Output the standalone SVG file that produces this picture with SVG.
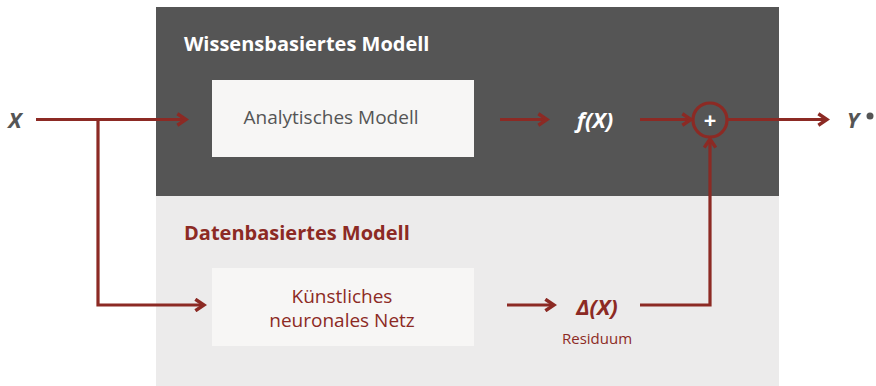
<svg xmlns="http://www.w3.org/2000/svg" width="876" height="386" viewBox="0 0 876 386">
<defs>
<style>
.ln{fill:none;stroke:#8c2a24;stroke-width:3.2}
.t{font-family:"Open Sans","Liberation Sans",sans-serif}
.var{font-family:"Open Sans","Liberation Sans",sans-serif;font-style:italic;font-weight:bold;font-size:22px}
</style>
<marker id="arr" viewBox="0 0 10 10" refX="8" refY="5" markerWidth="4.5" markerHeight="4.5" orient="auto" markerUnits="strokeWidth">
<path d="M2,1 L8,5 L2,9" fill="none" stroke="#8c2a24" stroke-width="2.4"/>
</marker>
</defs>
<rect width="876" height="386" fill="#ffffff"/>
<g id="wissen">
<rect x="156" y="7" width="623" height="189" fill="#555555"/>
<text class="t" x="184" y="51" font-size="20" font-weight="bold" fill="#ffffff">Wissensbasiertes Modell</text>
</g>
<g id="daten">
<rect x="156" y="196" width="623" height="190" fill="#ecebeb"/>
<text class="t" x="184" y="240" font-size="20" font-weight="bold" fill="#8c2a24">Datenbasiertes Modell</text>
</g>
<g id="analytisch">
<rect x="212" y="80" width="262" height="77" fill="#f7f6f5"/>
<text class="t" x="331" y="124" font-size="19" fill="#555555" text-anchor="middle">Analytisches Modell</text>
</g>
<g id="knn">
<rect x="212" y="268" width="262" height="78" fill="#f7f6f5"/>
<text class="t" x="342" y="303" font-size="19" fill="#8c2a24" text-anchor="middle">Künstliches</text>
<text class="t" x="342" y="327" font-size="19" fill="#8c2a24" text-anchor="middle">neuronales Netz</text>
</g>
<g id="x">
<text class="var" x="15" y="128" text-anchor="middle" fill="#555555">X</text>
</g>
<g id="fx">
<text class="var" x="595" y="128" text-anchor="middle" fill="#ffffff">f(X)</text>
</g>
<g id="sum">
<circle cx="710" cy="120" r="17" fill="none" stroke="#8c2a24" stroke-width="3.2"/>
<text class="t" x="710" y="128" font-size="22" font-weight="bold" fill="#ffffff" text-anchor="middle">+</text>
</g>
<g id="y">
<text class="var" x="853" y="128" text-anchor="middle" fill="#555555">Y</text>
<circle cx="870" cy="116" r="3.5" fill="#555555"/>
</g>
<g id="delta">
<text class="var" x="597" y="315" text-anchor="middle" fill="#8c2a24">Δ(X)</text>
<text class="t" x="597" y="344" font-size="15" fill="#8c2a24" text-anchor="middle">Residuum</text>
</g>
<g id="connectors">
<path class="ln" d="M36,119.5 H186" marker-end="url(#arr)"/>
<path class="ln" d="M98,119.5 V305 H204" marker-end="url(#arr)"/>
<path class="ln" d="M500,119.5 H547" marker-end="url(#arr)"/>
<path class="ln" d="M640,119.5 H691" marker-end="url(#arr)"/>
<path class="ln" d="M727,119.5 H827" marker-end="url(#arr)"/>
<path class="ln" d="M507,305 H554" marker-end="url(#arr)"/>
<path class="ln" d="M640,305 H710 V139" marker-end="url(#arr)"/>
</g>
</svg>
